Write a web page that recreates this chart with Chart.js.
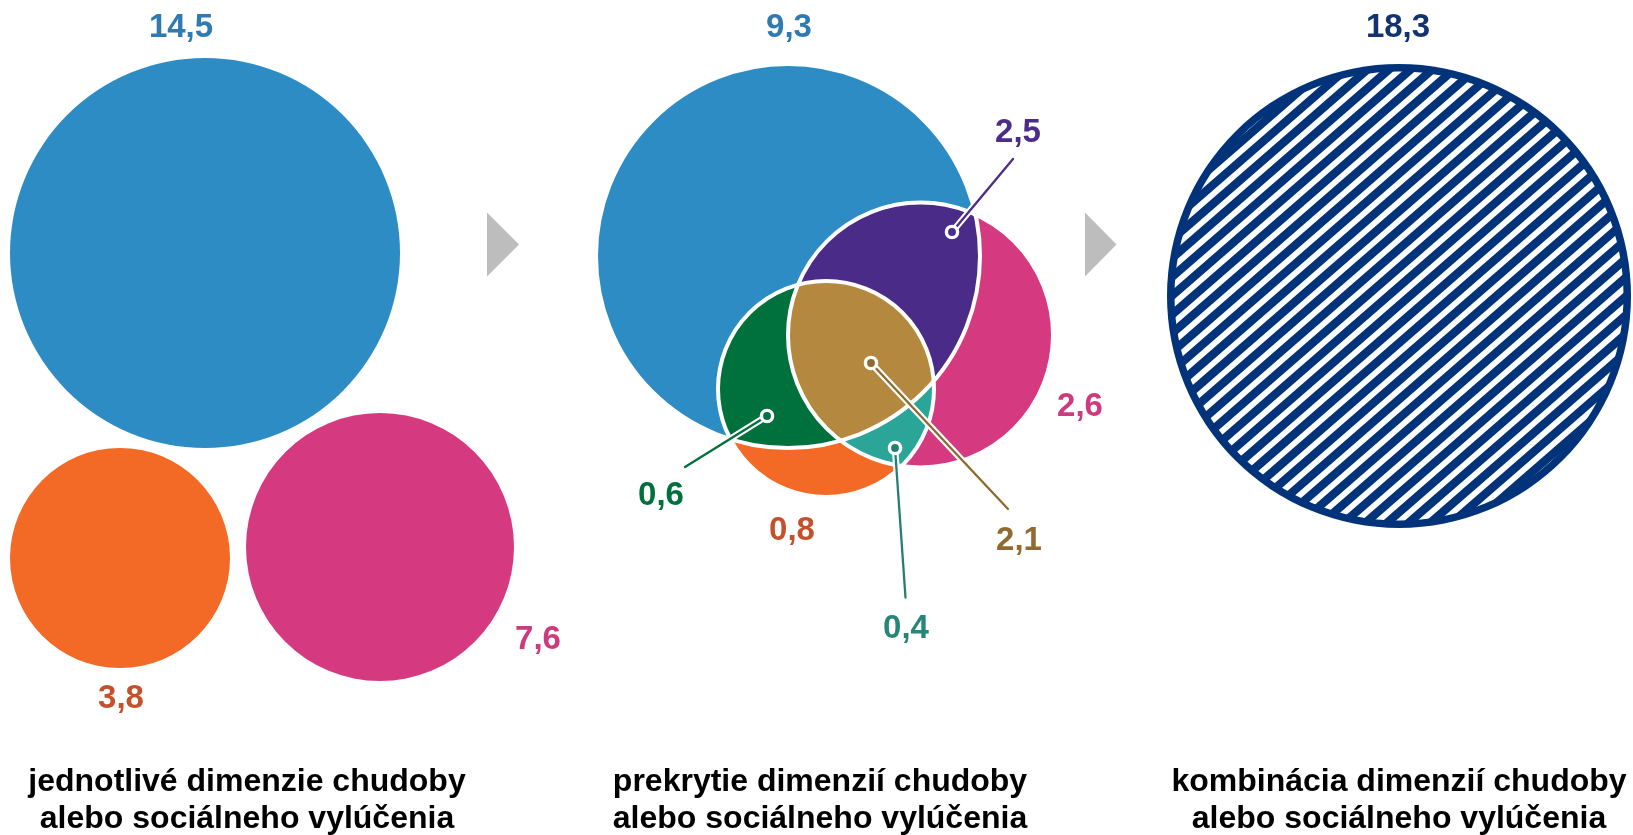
<!DOCTYPE html>
<html>
<head>
<meta charset="utf-8">
<script src="https://cdn.jsdelivr.net/npm/chart.js@4.4.1/dist/chart.umd.min.js"></script>
<style>
  html, body { margin: 0; padding: 0; background: #fff; }
  #wrap { position: relative; width: 1633px; height: 835px; }
</style>
</head>
<body>
<div id="wrap"><canvas id="venn"></canvas></div>
<script>
// ---- data ----
// panel 1: single dimensions (blue, orange, pink)
const dimensions = ['B', 'O', 'P'];
const dimensionValues = [14.5, 3.8, 7.6];

// panel 2: overlap regions of the three dimensions
const regions = ['B', 'BP', 'P', 'BO', 'BPO', 'PO', 'O'];
const regionValues = [9.3, 2.5, 2.6, 0.6, 2.1, 0.4, 0.8];

// panel 3: combined
const combinedValue = 18.3;

const panelTitles = [
    ['jednotlivé dimenzie chudoby', 'alebo sociálneho vylúčenia'],
    ['prekrytie dimenzií chudoby', 'alebo sociálneho vylúčenia'],
    ['kombinácia dimenzií chudoby', 'alebo sociálneho vylúčenia']
];

// ---- layout (axis units of the figure) ----
const panel1Circles = {
    B: { x: 205, y: 253, size: 195 },
    O: { x: 120, y: 558, size: 110 },
    P: { x: 380, y: 547, size: 134 }
};
const vennCircles = {
    B: { x: 788, y: 256, size: 192 },
    P: { x: 920.5, y: 335, size: 132.5 },
    O: { x: 826, y: 389, size: 108 }
};
const combinedCircle = { x: 1399, y: 296, size: 232 };

const panel1Labels = {
    B: { x: 181, y: 37 },
    O: { x: 121, y: 708 },
    P: { x: 538, y: 649 }
};
const regionLabels = {
    B:   { x: 789, y: 37 },
    BP:  { x: 1018, y: 142, marker: [952, 232], end: [1013, 159] },
    P:   { x: 1080, y: 416 },
    BO:  { x: 661, y: 505, marker: [767, 416], end: [685, 467] },
    BPO: { x: 1019, y: 550, marker: [871, 363], end: [1008, 509] },
    PO:  { x: 906, y: 638, marker: [895, 448], end: [905.5, 597.5] },
    O:   { x: 792, y: 540 }
};
const combinedLabel = { x: 1398, y: 37 };
const titleX = [247, 820, 1399];
const titleY = [791, 828];
const arrows = [[487, 519], [1085, 1116.5]];

// ---- styles ----
const fills = {
    B: '#2e8cc4', O: '#f36a26', P: '#d53a81',
    BP: '#4a2b87', BO: '#00713d', PO: '#2aa597', BPO: '#b4893f',
    navy: '#00337a'
};
const labelColors = {
    B: '#2f7bb1', O: '#c5512b', P: '#cf3a7e',
    BP: '#4b2c88', BO: '#00703c', PO: '#268679', BPO: '#8f6b33',
    navy: '#12336f'
};
const markerColors = { BP: '#4b2c88', BO: '#00703c', PO: '#237f73', BPO: '#8c6a30' };
const FONT = '"Liberation Sans", Arial, sans-serif';

const fmt = v => v.toFixed(1).replace('.', ',');

const vennPlugin = {
    id: 'vennPlugin',
    afterDatasetsDraw(chart) {
        const ctx = chart.ctx;
        const xs = chart.scales.x, ys = chart.scales.y;
        const X = v => xs.getPixelForValue(v);
        const Y = v => ys.getPixelForValue(v);
        const R = c => X(c.x + c.size) - X(c.x);
        const path = c => { ctx.beginPath(); ctx.arc(X(c.x), Y(c.y), R(c), 0, Math.PI * 2); };

        // overlap regions
        const fillIntersection = (keys, color) => {
            ctx.save();
            keys.slice(0, -1).forEach(k => { path(vennCircles[k]); ctx.clip(); });
            path(vennCircles[keys[keys.length - 1]]);
            ctx.fillStyle = color;
            ctx.fill();
            ctx.restore();
        };
        fillIntersection(['B', 'P'], fills.BP);
        fillIntersection(['B', 'O'], fills.BO);
        fillIntersection(['P', 'O'], fills.PO);
        fillIntersection(['B', 'P', 'O'], fills.BPO);

        ctx.save();
        ctx.strokeStyle = '#fff';
        ctx.lineWidth = 4;
        ['B', 'P', 'O'].forEach(k => { path(vennCircles[k]); ctx.stroke(); });
        ctx.restore();

        // hatched combined circle
        ctx.save();
        const cc = combinedCircle;
        const rr = R(cc);
        const step = 14.2;
        ctx.beginPath();
        ctx.arc(X(cc.x), Y(cc.y), rr - 7.5, 0, Math.PI * 2);
        ctx.clip();
        ctx.translate(X(cc.x), Y(cc.y));
        ctx.rotate(-41 * Math.PI / 180);
        ctx.fillStyle = '#fff';
        for (let k = -Math.ceil(rr / step); k <= Math.ceil(rr / step); k++) {
            ctx.fillRect(-rr, k * step - 2.9, rr * 2, 5.8);
        }
        ctx.restore();

        // leader lines + markers
        regions.forEach(key => {
            const l = regionLabels[key];
            if (!l.marker) return;
            const [mx, my] = l.marker, [ex, ey] = l.end;
            ctx.save();
            ctx.lineCap = 'round';
            ctx.beginPath();
            ctx.moveTo(X(mx), Y(my));
            ctx.lineTo(X(ex), Y(ey));
            ctx.strokeStyle = '#fff';
            ctx.lineWidth = 6.5;
            ctx.stroke();
            ctx.strokeStyle = markerColors[key];
            ctx.lineWidth = 2.3;
            ctx.stroke();
            ctx.beginPath();
            ctx.arc(X(mx), Y(my), 5.6, 0, Math.PI * 2);
            ctx.fillStyle = markerColors[key];
            ctx.fill();
            ctx.strokeStyle = '#fff';
            ctx.lineWidth = 3.4;
            ctx.stroke();
            ctx.restore();
        });

        // arrows
        ctx.save();
        ctx.fillStyle = '#bdbdbd';
        arrows.forEach(([x0, x1]) => {
            ctx.beginPath();
            ctx.moveTo(X(x0), Y(212.5));
            ctx.lineTo(X(x1), Y(244.5));
            ctx.lineTo(X(x0), Y(276.5));
            ctx.closePath();
            ctx.fill();
        });
        ctx.restore();

        // value labels
        ctx.save();
        ctx.font = 'bold 33px ' + FONT;
        ctx.textAlign = 'center';
        ctx.textBaseline = 'alphabetic';
        dimensions.forEach((key, i) => {
            ctx.fillStyle = labelColors[key];
            ctx.fillText(fmt(dimensionValues[i]), X(panel1Labels[key].x), Y(panel1Labels[key].y));
        });
        regions.forEach((key, i) => {
            ctx.fillStyle = labelColors[key];
            ctx.fillText(fmt(regionValues[i]), X(regionLabels[key].x), Y(regionLabels[key].y));
        });
        ctx.fillStyle = labelColors.navy;
        ctx.fillText(fmt(combinedValue), X(combinedLabel.x), Y(combinedLabel.y));

        // panel titles
        ctx.font = 'bold 32px ' + FONT;
        ctx.fillStyle = '#000';
        panelTitles.forEach((lines, i) => {
            lines.forEach((t, j) => ctx.fillText(t, X(titleX[i]), Y(titleY[j])));
        });
        ctx.restore();
    }
};

const chart = new Chart(document.getElementById('venn'), {
    type: 'bubble',
    data: {
        datasets: [
            {
                label: 'jednotlivé dimenzie',
                data: dimensions.map(k => ({ ...panel1Circles[k] })),
                backgroundColor: dimensions.map(k => fills[k])
            },
            {
                label: 'prekrytie',
                data: ['B', 'P', 'O'].map(k => ({ ...vennCircles[k] })),
                backgroundColor: ['B', 'P', 'O'].map(k => fills[k])
            },
            {
                label: 'kombinácia',
                data: [{ ...combinedCircle }],
                backgroundColor: fills.navy
            }
        ]
    },
    options: {
        responsive: true,
        maintainAspectRatio: false,
        animation: false,
        events: [],
        layout: { padding: 0, autoPadding: false },
        elements: { point: { borderWidth: 0, hoverRadius: 0 } },
        datasets: { bubble: { clip: false } },
        plugins: { legend: { display: false }, tooltip: { enabled: false } },
        scales: {
            x: { type: 'linear', min: 0, max: 1633, display: false },
            y: { type: 'linear', min: 0, max: 835, reverse: true, display: false }
        }
    },
    plugins: [vennPlugin]
});

// bubble radius in pixels from the circle size in axis units
const xScale = chart.scales.x;
chart.data.datasets.forEach(ds => ds.data.forEach(p => {
    p.r = xScale.getPixelForValue(p.x + p.size) - xScale.getPixelForValue(p.x);
}));
chart.update();
</script>
</body>
</html>
